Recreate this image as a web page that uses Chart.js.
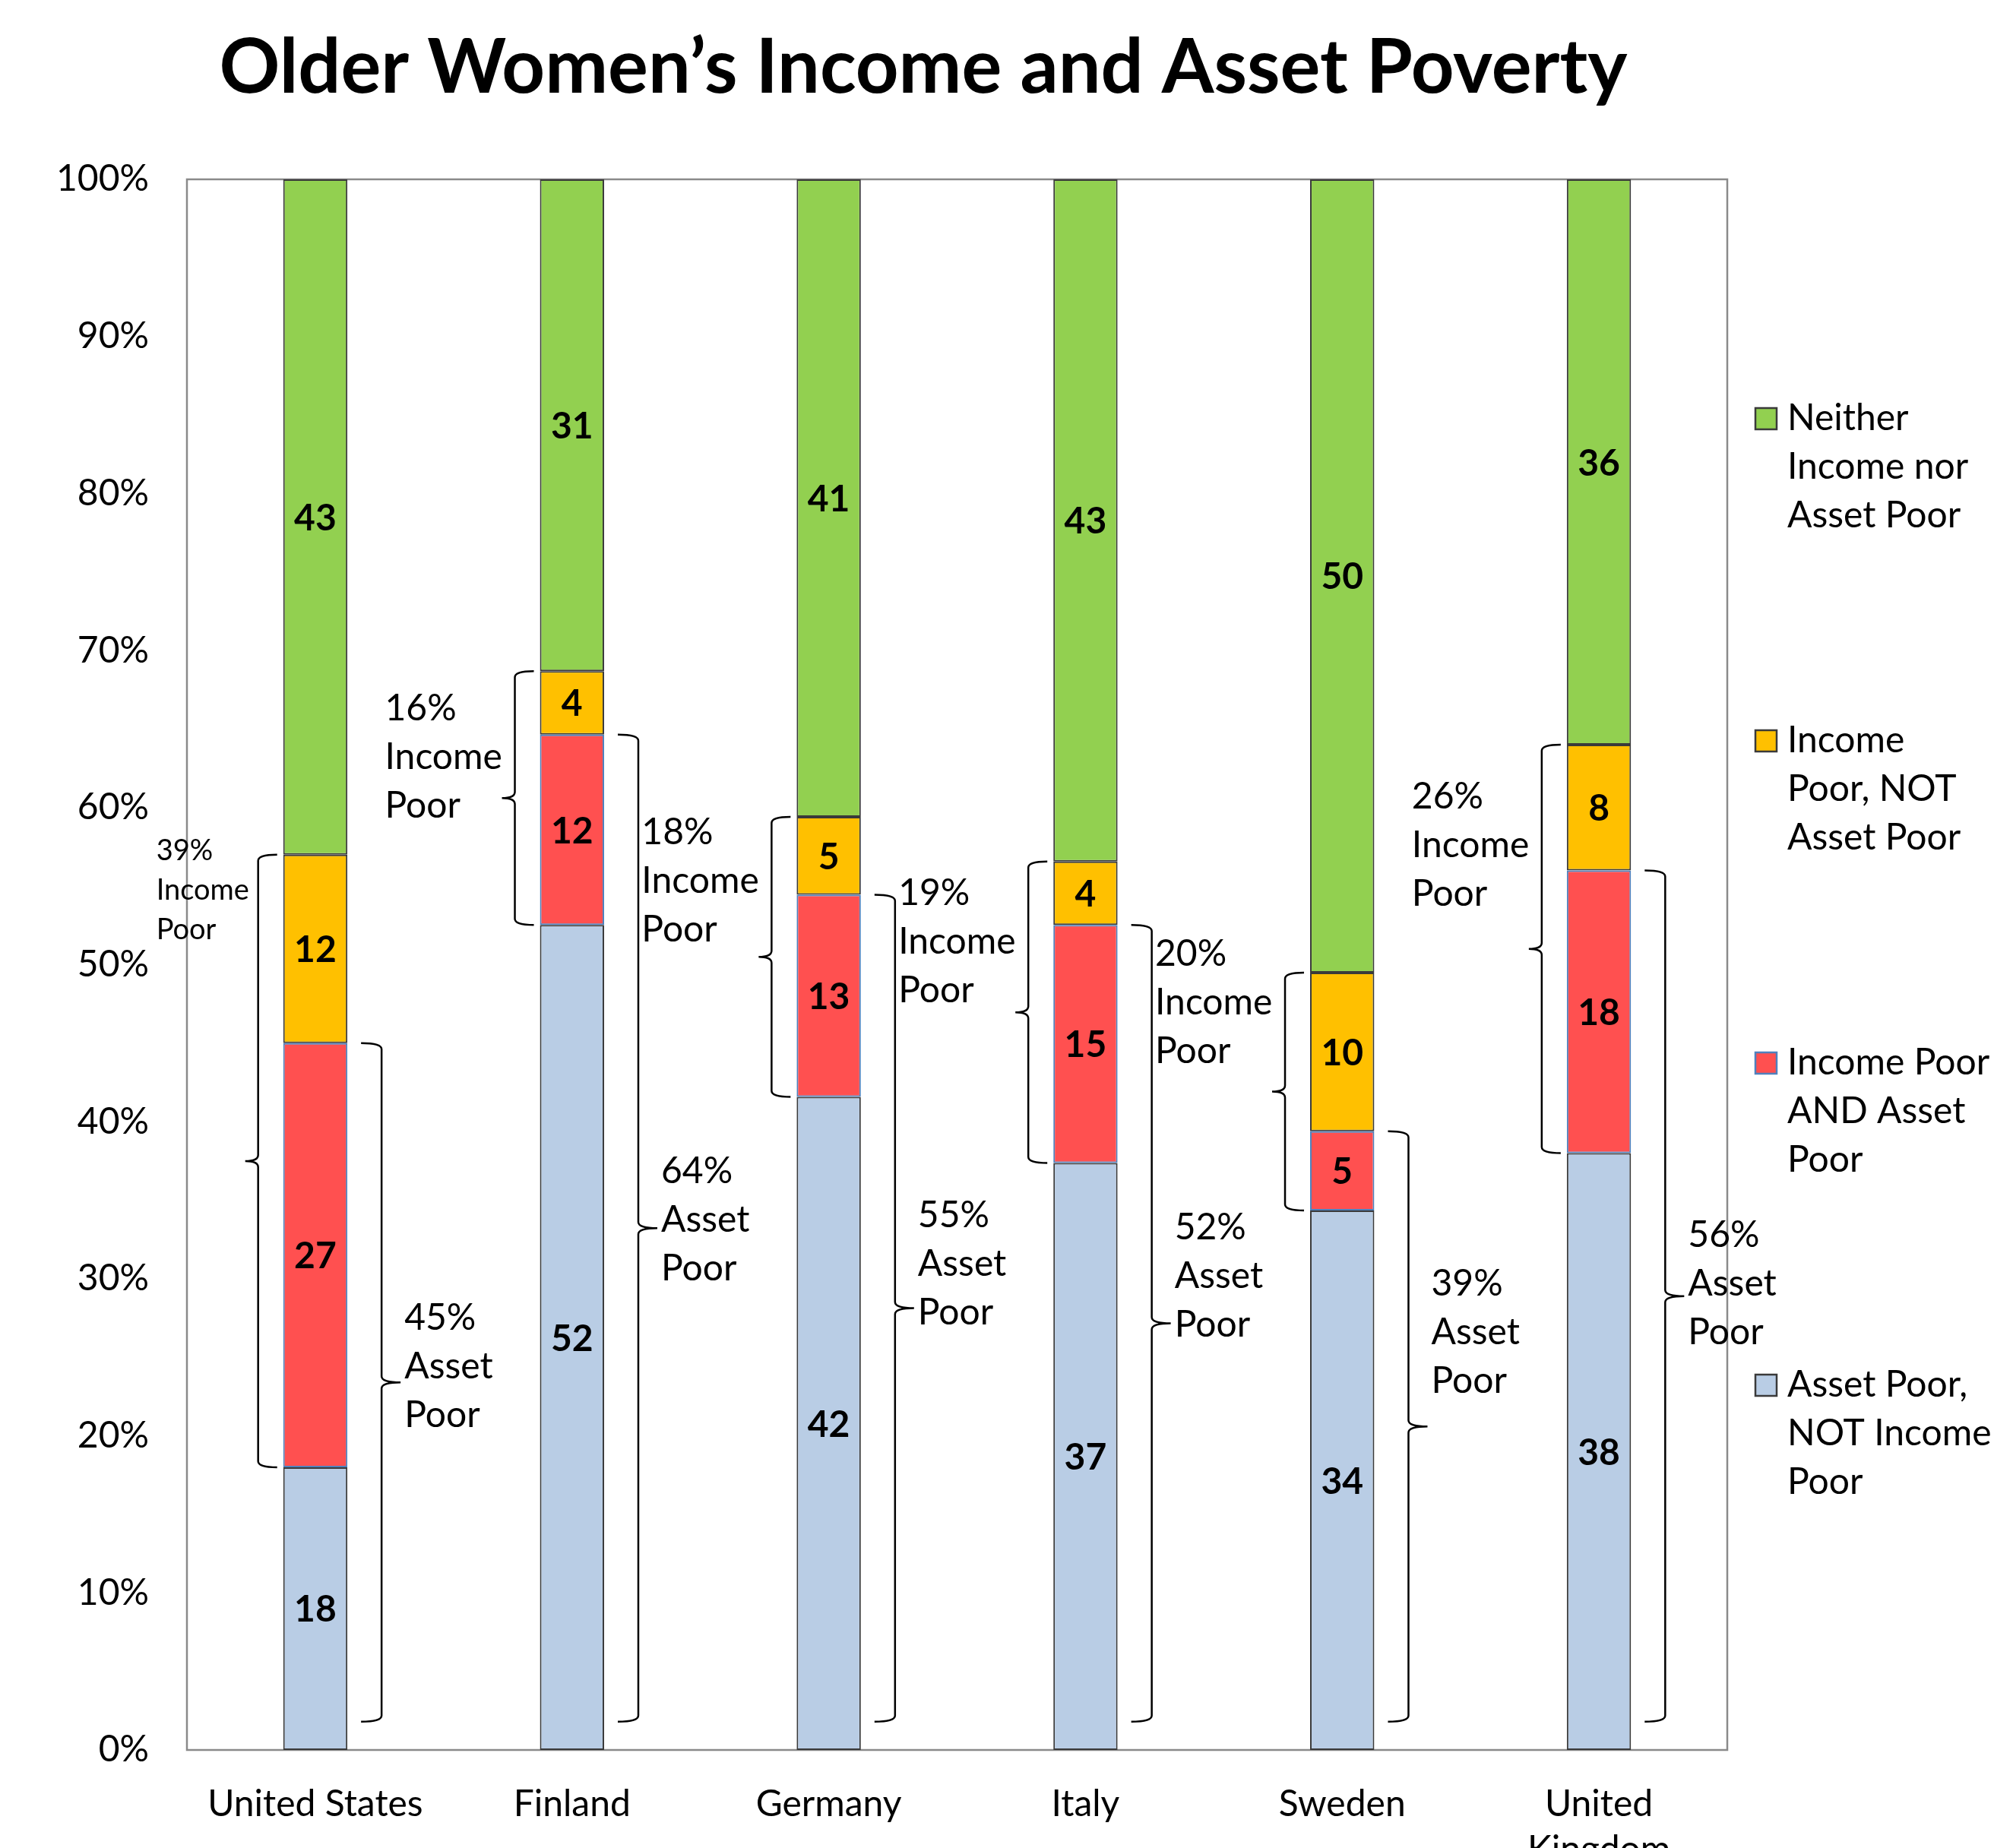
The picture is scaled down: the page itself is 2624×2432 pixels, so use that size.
<!DOCTYPE html>
<html>
<head>
<meta charset="utf-8">
<script src="https://cdn.jsdelivr.net/npm/chart.js@4.4.1/dist/chart.umd.min.js"></script>
<style>
  html, body { margin: 0; padding: 0; background: #ffffff; }
  #wrap { width: 2624px; height: 2432px; position: relative; }
  canvas { display: block; }
</style>
</head>
<body>
<div id="wrap"><canvas id="c" width="2624" height="2432" style="width:2624px;height:2432px"></canvas></div>
<script>
// ---------------- DATA ----------------
const categories = ['United States', 'Finland', 'Germany', 'Italy', 'Sweden', 'United Kingdom'];
const categoryTickLabels = ['United States', 'Finland', 'Germany', 'Italy', 'Sweden', ['United', 'Kingdom']];
const assetPoorNotIncomePoor = [18, 52, 42, 37, 34, 38];
const incomePoorAndAssetPoor = [27, 12, 13, 15, 5, 18];
const incomePoorNotAssetPoor = [12, 4, 5, 4, 10, 8];
const neitherPoor = [43, 31, 41, 43, 50, 36];
const incomePoorTotalLabel = [39, 16, 18, 19, 20, 26];
const assetPoorTotalLabel = [45, 64, 55, 52, 39, 56];
const yTickValues = [0, 10, 20, 30, 40, 50, 60, 70, 80, 90, 100];

const seriesNames = [
  'Asset Poor, NOT Income Poor',
  'Income Poor AND Asset Poor',
  'Income Poor, NOT Asset Poor',
  'Neither Income nor Asset Poor'
];
const legendLines = {
  'Neither Income nor Asset Poor': ['Neither', 'Income nor', 'Asset Poor'],
  'Income Poor, NOT Asset Poor': ['Income', 'Poor, NOT', 'Asset Poor'],
  'Income Poor AND Asset Poor': ['Income Poor', 'AND Asset', 'Poor'],
  'Asset Poor, NOT Income Poor': ['Asset Poor,', 'NOT Income', 'Poor']
};

// ---------------- STYLE / LAYOUT ----------------
const FONT = 'Lato, "Open Sans", "DejaVu Sans", sans-serif';
const seriesColors = ['#B9CDE5', '#FF5050', '#FFC000', '#92D050'];
const seriesBorders = ['#3A3A3A', '#4F81BD', '#3A3A3A', '#3A3A3A'];
// hand-placed annotation text nudges (in axis % units, relative to their braces)
const incomeTextNudge = [0.25, -2.4, -1.0, -2.0, 1.2, -3.3];
const assetTextNudge = [1.0, 0.5, 2.8, 3.0, 6.0, 0.8];

// build 100%-stacked table from raw arrays
const rawSeries = [assetPoorNotIncomePoor, incomePoorAndAssetPoor, incomePoorNotAssetPoor, neitherPoor];
const totals = categories.map((_, i) => rawSeries.reduce((s, arr) => s + arr[i], 0));
const datasets = rawSeries.map((arr, k) => ({
  label: seriesNames[k],
  data: arr.map((v, i) => v / totals[i] * 100),
  raw: arr,
  backgroundColor: seriesColors[k],
  borderColor: seriesBorders[k],
  borderWidth: 2,
  borderSkipped: false,
  categoryPercentage: 1.0,
  barPercentage: 0.25
}));

function brace(ctx, x, yTop, yBot, dir, endLen, tipLen, r) {
  // dir = +1 : ends point right, tip points left ; dir = -1 : opposite
  const yMid = (yTop + yBot) / 2;
  ctx.beginPath();
  ctx.moveTo(x + dir * endLen, yTop);
  ctx.quadraticCurveTo(x, yTop, x, yTop + r);
  ctx.lineTo(x, yMid - r);
  ctx.quadraticCurveTo(x, yMid, x - dir * tipLen, yMid);
  ctx.quadraticCurveTo(x, yMid, x, yMid + r);
  ctx.lineTo(x, yBot - r);
  ctx.quadraticCurveTo(x, yBot, x + dir * endLen, yBot);
  ctx.stroke();
}

const decorPlugin = {
  id: 'decor',
  beforeDatasetsDraw(chart) {
    const { ctx, chartArea: a } = chart;
    ctx.save();
    ctx.strokeStyle = '#8A8A8A';
    ctx.lineWidth = 2.5;
    ctx.strokeRect(a.left, a.top, a.right - a.left, a.bottom - a.top);
    ctx.restore();
  },
  afterDatasetsDraw(chart) {
    const { ctx } = chart;
    const ys = chart.scales.y;
    ctx.save();
    // value labels
    ctx.fillStyle = '#000';
    ctx.font = 'bold 48px ' + FONT;
    ctx.textAlign = 'center';
    ctx.textBaseline = 'middle';
    chart.data.datasets.forEach((ds, k) => {
      const meta = chart.getDatasetMeta(k);
      meta.data.forEach((bar, i) => {
        ctx.fillText(String(ds.raw[i]), bar.x, (bar.y + bar.base) / 2 + 2);
      });
    });

    // braces and their labels
    const metaBlue = chart.getDatasetMeta(0);
    ctx.strokeStyle = '#000';
    ctx.lineWidth = 2.5;
    categories.forEach((_, i) => {
      const bar = metaBlue.data[i];
      const half = bar.width / 2;
      const left = bar.x - half, right = bar.x + half;
      const d = datasets.map(ds => ds.data[i]);
      const cumBlue = d[0], cumRed = d[0] + d[1], cumYel = d[0] + d[1] + d[2];

      // income-poor brace (left of bar)
      const ix = left - 33;
      brace(ctx, ix, ys.getPixelForValue(cumYel), ys.getPixelForValue(cumBlue), 1, 25, 17, 8);
      // asset-poor brace (right of bar)
      const ax = right + 45;
      const aBase = 1.8;
      brace(ctx, ax, ys.getPixelForValue(cumRed), ys.getPixelForValue(aBase), -1, 27, 25, 8);

      // income label
      const small = i === 0;
      const fs = small ? 38 : 48;
      const lh = small ? 52 : 64;
      const lx = left - (small ? 167 : 204);
      const ly0 = ys.getPixelForValue(cumYel + incomeTextNudge[i]);
      ctx.font = fs + 'px ' + FONT;
      ctx.textAlign = 'left';
      ctx.textBaseline = 'middle';
      [incomePoorTotalLabel[i] + '%', 'Income', 'Poor'].forEach((t, j) => ctx.fillText(t, lx, ly0 + j * lh));

      // asset label
      ctx.font = '48px ' + FONT;
      const amid = ys.getPixelForValue((cumRed + aBase) / 2 + assetTextNudge[i]);
      const alx = right + 75;
      [assetPoorTotalLabel[i] + '%', 'Asset', 'Poor'].forEach((t, j) => ctx.fillText(t, alx, amid + (j - 1) * 64));
    });
    ctx.restore();
  },
  afterDraw(chart) {
    const { ctx } = chart;
    ctx.save();
    // title
    ctx.fillStyle = '#000';
    ctx.font = 'bold 99px ' + FONT;
    ctx.textAlign = 'center';
    ctx.textBaseline = 'middle';
    ctx.fillText('Older Women\u2019s Income and Asset Poverty', 1215, 90);

    // legend (top to bottom = reverse stack order)
    const order = [3, 2, 1, 0];
    ctx.font = '48px ' + FONT;
    ctx.textAlign = 'left';
    order.forEach((k, n) => {
      const ds = chart.data.datasets[k];
      const y0 = 551 + n * 424;
      ctx.fillStyle = ds.backgroundColor;
      ctx.fillRect(2310, y0 - 14, 28, 28);
      ctx.strokeStyle = ds.borderColor;
      ctx.lineWidth = 2.5;
      ctx.strokeRect(2310, y0 - 14, 28, 28);
      ctx.fillStyle = '#000';
      legendLines[ds.label].forEach((t, j) => ctx.fillText(t, 2352, y0 + j * 64));
    });
    ctx.restore();
  }
};

new Chart(document.getElementById('c'), {
  type: 'bar',
  data: { labels: categoryTickLabels, datasets },
  options: {
    responsive: false,
    animation: false,
    devicePixelRatio: 1,
    layout: { padding: { top: 236, right: 351, left: 0, bottom: 0 } },
    plugins: { legend: { display: false }, title: { display: false }, tooltip: { enabled: false } },
    scales: {
      x: {
        stacked: true,
        grid: { display: false, drawTicks: false },
        border: { display: false },
        ticks: { color: '#000', font: { family: FONT, size: 48, lineHeight: 1.25 }, padding: 42, maxRotation: 0, autoSkip: false },
        afterFit(s) { s.height = 129; }
      },
      y: {
        stacked: true,
        min: 0,
        max: 100,
        grid: { display: false, drawTicks: false },
        border: { display: false },
        afterBuildTicks(s) { s.ticks = yTickValues.map(v => ({ value: v })); },
        ticks: { color: '#000', font: { family: FONT, size: 48 }, padding: 50, callback: v => v + '%' },
        afterFit(s) { s.width = 246; }
      }
    }
  },
  plugins: [decorPlugin]
});
</script>
</body>
</html>
